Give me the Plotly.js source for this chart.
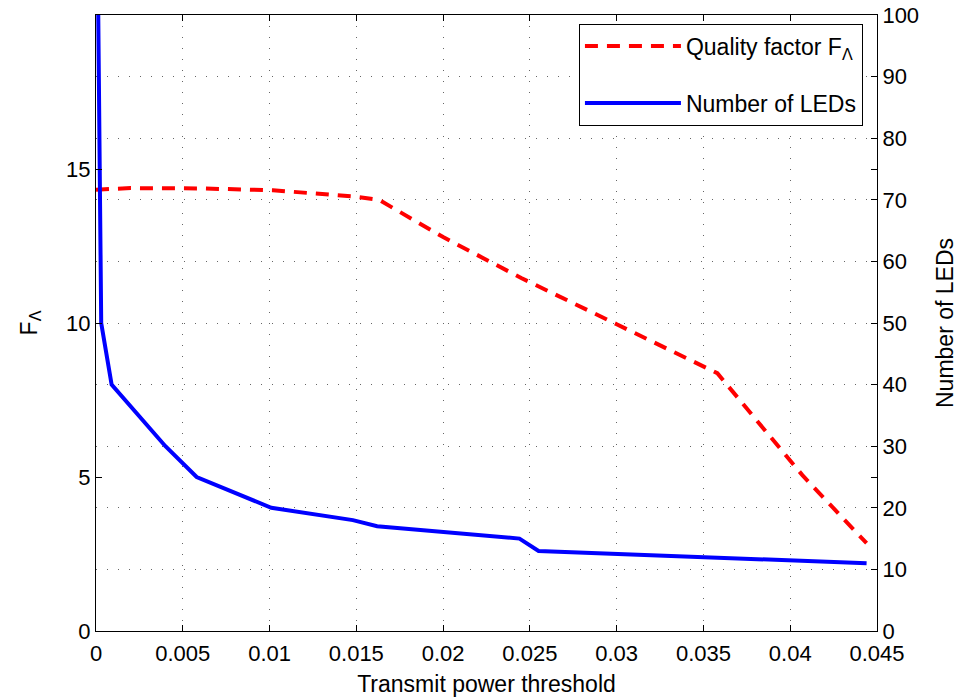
<!DOCTYPE html>
<html>
<head>
<meta charset="utf-8">
<script src="https://cdn.plot.ly/plotly-3.0.1.min.js"></script>
<style>html,body{margin:0;padding:0;background:#fff;}#chart{width:959px;height:698px;}</style>
</head>
<body>
<div id="chart"></div>
<script>
// Quality factor F_Lambda (left axis)
var qualityX = [0, 0.002, 0.006, 0.0102, 0.0150, 0.0163, 0.020, 0.0245, 0.030, 0.0358, 0.0407, 0.0444];
var qualityY = [14.33, 14.38, 14.37, 14.31, 14.1, 14.0, 12.79, 11.46, 9.96, 8.37, 5.06, 2.85];

// Number of LEDs (right axis)
var ledX = [0.00013, 0.0003, 0.0009, 0.0040, 0.0058, 0.0101, 0.0148, 0.0162, 0.0244, 0.0255, 0.0444];
var ledY = [100, 50, 40, 30, 25, 20, 18, 17, 15, 13, 11];

var xTickVals = [0, 0.005, 0.01, 0.015, 0.02, 0.025, 0.03, 0.035, 0.04, 0.045];
var xTickText = ['0', '0.005', '0.01', '0.015', '0.02', '0.025', '0.03', '0.035', '0.04', '0.045'];
var leftTickVals = [0, 5, 10, 15];
var leftTickText = ['0', '5', '10', '15'];

var FONT = 'Liberation Sans, Arial, Helvetica, sans-serif';

var traces = [
  {
    x: qualityX, y: qualityY, type: 'scatter', mode: 'lines',
    name: 'Quality factor F<sub>Λ</sub>', legendgroup: 'q',
    line: {color: '#ff0000', width: 4, dash: '13px,9px'},
    yaxis: 'y'
  },
  {
    x: ledX, y: ledY, type: 'scatter', mode: 'lines',
    name: 'Number of LEDs', legendgroup: 'n',
    line: {color: '#0000ff', width: 4},
    yaxis: 'y2'
  }
];

var layout = {
  width: 959, height: 698,
  margin: {l: 96, r: 82, t: 15, b: 67},
  paper_bgcolor: '#ffffff', plot_bgcolor: '#ffffff',
  font: {family: FONT, size: 22, color: '#000'},
  showlegend: true,
  legend: {
    x: 0.982, y: 0.986, xanchor: 'right', yanchor: 'top',
    bordercolor: '#000', borderwidth: 1, bgcolor: '#fff',
    font: {family: FONT, size: 23, color: '#000'},
    itemwidth: 96, tracegroupgap: 24
  },
  xaxis: {
    range: [0, 0.045], tickmode: 'array', tickvals: xTickVals, ticktext: xTickText,
    ticks: 'inside', ticklen: 6, tickcolor: '#000',
    showline: true, linecolor: '#000', linewidth: 1, mirror: 'ticks',
    showgrid: true, gridcolor: '#666', gridwidth: 1, griddash: '1px,10px',
    zeroline: false, ticklabelstandoff: 3,
    tickfont: {family: FONT, size: 22},
    title: {text: 'Transmit power threshold', font: {family: FONT, size: 23}, standoff: 10}
  },
  yaxis: {
    range: [0, 20], tickmode: 'array', tickvals: leftTickVals, ticktext: leftTickText,
    ticks: 'inside', ticklen: 6, tickcolor: '#000',
    showline: true, linecolor: '#000', linewidth: 1, mirror: 'ticks',
    showgrid: false, zeroline: false,
    tickfont: {family: FONT, size: 22},
    title: {text: 'F<sub>Λ</sub>', font: {family: FONT, size: 23}, standoff: 22}
  },
  yaxis2: {
    range: [0, 100], dtick: 10, tick0: 0, overlaying: 'y', side: 'right',
    ticks: 'inside', ticklen: 6, tickcolor: '#000',
    showline: true, linecolor: '#000', linewidth: 1,
    showgrid: true, gridcolor: '#666', gridwidth: 1, griddash: '1px,10px',
    zeroline: false,
    tickfont: {family: FONT, size: 22},
    title: {text: 'Number of LEDs', font: {family: FONT, size: 23}, standoff: 18}
  }
};

Plotly.newPlot('chart', traces, layout, {displayModeBar: false, staticPlot: true});
</script>
</body>
</html>
